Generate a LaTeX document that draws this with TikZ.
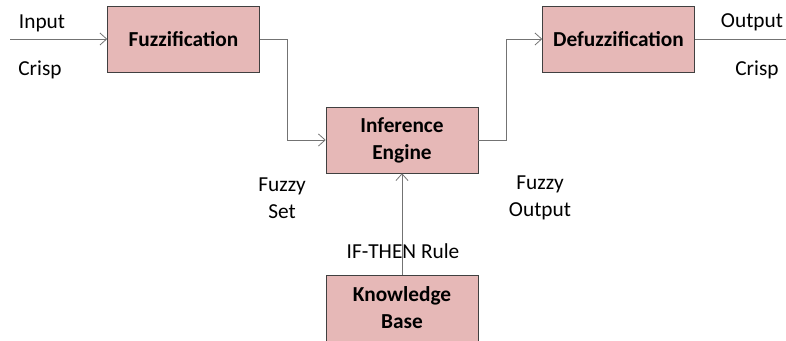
\documentclass[tikz,border=0pt]{standalone}
\usepackage{fontspec}
\setmainfont{Carlito}
\usepackage{tikz}
\usetikzlibrary{arrows.meta}

\begin{document}
\begin{tikzpicture}[x=0.75pt,y=0.75pt,yscale=-1,xscale=1,
  >={Straight Barb[length=5pt,width=9pt]},
  stagebox/.style={draw={rgb, 255:red, 64; green, 64; blue, 64 },fill={rgb, 255:red, 230; green, 184; blue, 183 },
    minimum width=114pt,minimum height=49.5pt,inner sep=0pt,align=center,
    font=\fontsize{16}{20.25}\selectfont\bfseries},
  flow/.style={draw={rgb, 255:red, 115; green, 115; blue, 115 },line width=0.6pt},
  lbl/.style={inner sep=0pt,align=center,font=\fontsize{16}{20.25}\selectfont}]
\useasboundingbox (0,0) rectangle (786,341);

%Blocks
\node [stagebox] (fuzz) at (183.5,39) {Fuzzification};
\node [stagebox] (infer) at (402,140) {Inference\\Engine};
\node [stagebox] (defuzz) at (618.5,39) {Defuzzification};
\node [stagebox] (kbase) at (402,308) {Knowledge\\Base};

%Free ends
\coordinate (crispin) at (10,39);
\coordinate (crispout) at (786,39);

%Connectors
\draw [flow,->] (crispin) -- (fuzz.west);
\draw [flow,->] (fuzz.east) -- ++(28,0) |- (infer.west);
\draw [flow,->] (infer.east) -- ++(28,0) |- (defuzz.west);
\draw [flow] (defuzz.east) -- (crispout);
\draw [flow,->] (kbase.north) -- (infer.south);

%Labels
\node [lbl,anchor=base] (inlbl) at (42,29) {Input};
\node [lbl,anchor=base] (incrisp) at (40,76) {Crisp};
\node [lbl,anchor=base] (outlbl) at (752,28) {Output};
\node [lbl,anchor=base] (outcrisp) at (757,76) {Crisp};
\node [lbl] (fzset) at (282,198) {Fuzzy\\Set};
\node [lbl] (fzout) at (540,198) {Fuzzy\\Output};
\node [lbl,anchor=base] (rule) at (403,259) {IF-THEN Rule};

\end{tikzpicture}
\end{document}
